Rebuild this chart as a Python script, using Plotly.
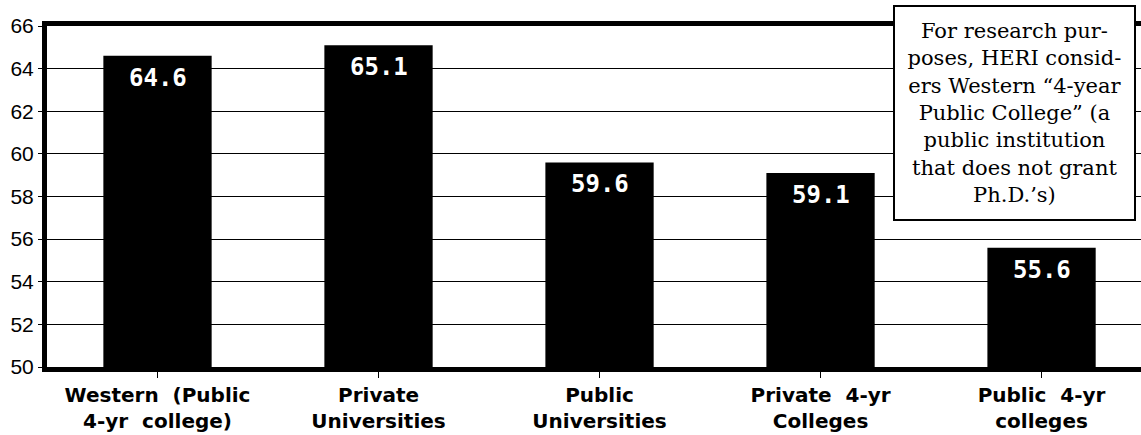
import plotly.graph_objects as go

# Survey scores by institution type
categories = [
    "Western  (Public<br>4-yr  college)",
    "Private<br>Universities",
    "Public<br>Universities",
    "Private  4-yr<br>Colleges",
    "Public  4-yr<br>colleges",
]
scores = [64.6, 65.1, 59.6, 59.1, 55.6]
y_ticks = [50, 52, 54, 56, 58, 60, 62, 64, 66]

note_lines = [
    "For research pur-",
    "poses, HERI consid-",
    "ers Western \u201c4-year",
    "Public College\u201d (a",
    "public institution",
    "that does not grant",
    "Ph.D.\u2019s)",
]

fig = go.Figure()
fig.add_trace(go.Bar(
    x=list(range(len(categories))),
    y=scores,
    width=0.49,
    marker=dict(color="black", line=dict(width=0)),
    hoverinfo="skip",
))

# value labels sitting just inside the top of each bar
for i, v in enumerate(scores):
    fig.add_annotation(
        x=i, y=v, xref="x", yref="y",
        text=f"{v:.1f}", showarrow=False,
        yanchor="middle", yshift=-22,
        font=dict(family="DejaVu Sans Mono", size=24, color="white", weight="bold"),
    )

# explanatory note box
fig.add_annotation(
    x=0.8844, y=0.745, xref="paper", yref="paper",
    xanchor="center", yanchor="middle",
    text="<br>".join(note_lines), showarrow=False,
    align="center",
    width=235, height=208,
    bgcolor="white", bordercolor="black", borderwidth=2, borderpad=2,
    font=dict(family="DejaVu Serif", size=21, color="black"),
)

fig.update_layout(
    width=1141, height=435,
    margin=dict(l=47, r=0, t=26, b=68),
    paper_bgcolor="white", plot_bgcolor="white",
    showlegend=False,
    xaxis=dict(
        range=[-0.5, 4.45],
        tickmode="array",
        tickvals=list(range(len(categories))),
        ticktext=categories,
        tickson="boundaries",
        ticks="outside", ticklen=6, tickwidth=1, tickcolor="black",
        showline=True, linecolor="black", linewidth=5, mirror=True,
        showgrid=False, zeroline=False,
        tickfont=dict(family="DejaVu Sans", size=20, color="black", weight="bold"),
    ),
    yaxis=dict(
        range=[50, 66],
        tickmode="array", tickvals=y_ticks,
        ticks="outside", ticklen=4, tickwidth=1, tickcolor="black",
        showline=True, linecolor="black", linewidth=5, mirror=False,
        showgrid=True, gridcolor="black", gridwidth=1,
        zeroline=False,
        tickfont=dict(family="Liberation Sans", size=21, color="black"),
    ),
)

fig.write_html("out.html")
